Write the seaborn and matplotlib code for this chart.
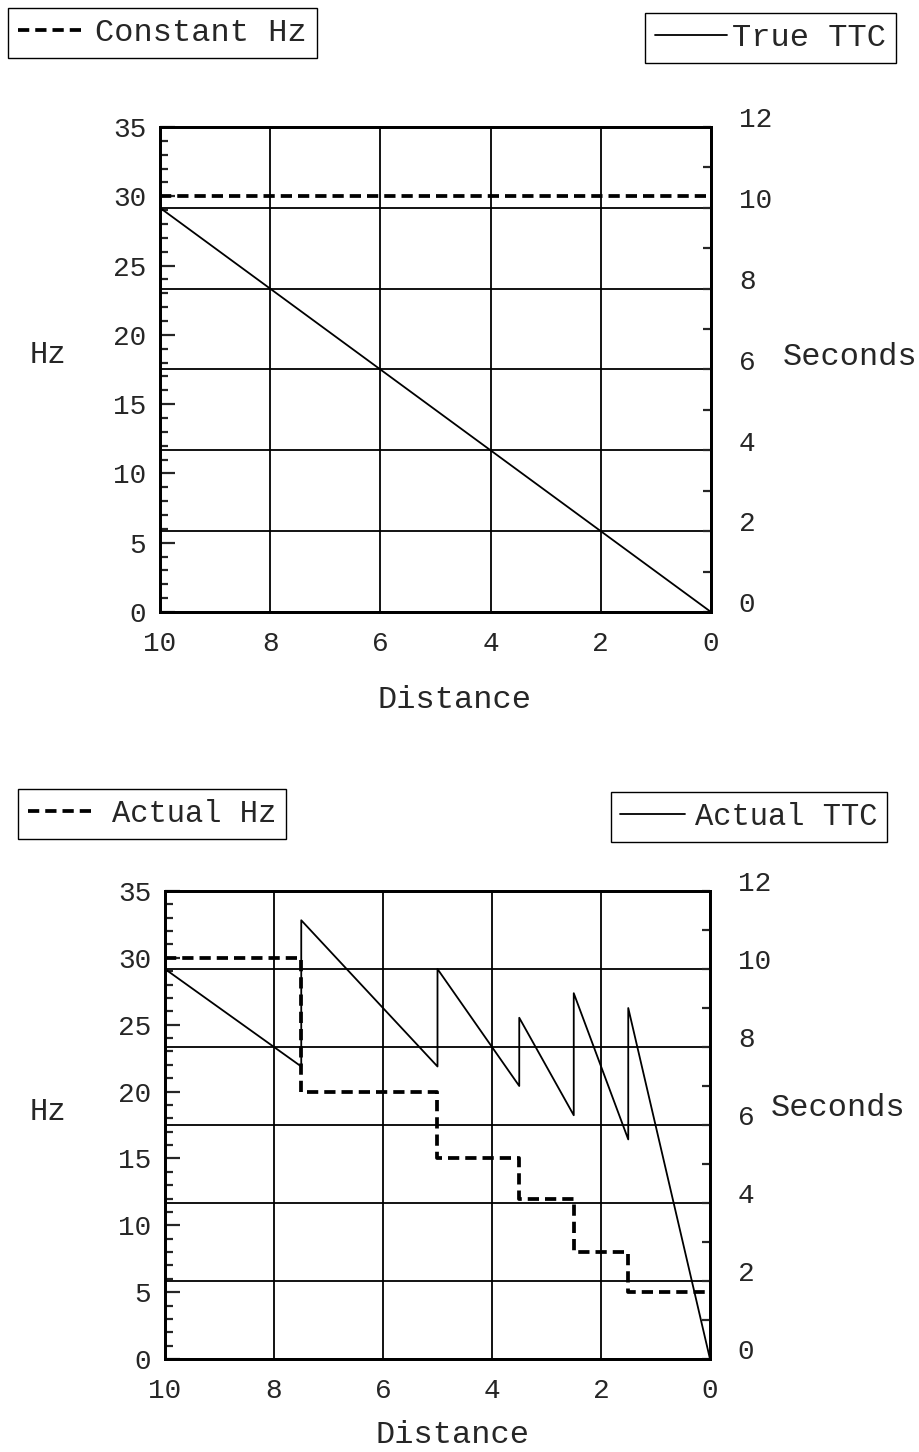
#! /usr/bin/env python3

import numpy as np
import pandas as pd
import seaborn as sns
import matplotlib.pyplot as plt
import matplotlib.transforms as mtransforms

# top panel: constant sampling rate
const_dist = [10, 9.5, 9, 8.5, 8, 7.5, 7, 6.5, 6, 5.5, 5, 4.5, 4, 3.5, 3, 2.5, 2, 1.5, 1, 0.5, 0]
const_hz = [30, 30, 30, 30, 30, 30, 30, 30, 30, 30, 30, 30, 30, 30, 30, 30, 30, 30, 30, 30, 30]
true_ttc = [10, 9.5, 9, 8.5, 8, 7.5, 7, 6.5, 6, 5.5, 5, 4.5, 4, 3.5, 3, 2.5, 2, 1.5, 1, 0.5, 0]

# bottom panel: stepped sampling rate
actual_dist = [10, 7.5, 7.5, 5, 5, 3.5, 3.5, 2.5, 2.5, 1.5, 1.5, 0]
actual_hz = [30, 30, 20, 20, 15, 15, 12, 12, 8, 8, 5, 5]
actual_ttc = [10, 7.5, 11.25, 7.5, 10, 7.0, 8.75, 6.25, 9.38, 5.63, 9.0, 0]

hz_ticks = [0, 5, 10, 15, 20, 25, 30, 35]
sec_ticks = [0, 2, 4, 6, 8, 10, 12]
dist_ticks = [10, 8, 6, 4, 2, 0]

FONT = ['Liberation Mono', 'DejaVu Sans Mono']
W, H = 920, 1452


def add_legend(fig, handle, text, loc, anchor, size, hlen, hpad):
    lg = fig.legend(handles=[handle], labels=[text], loc=loc,
                    bbox_to_anchor=anchor, handlelength=hlen,
                    handletextpad=hpad, frameon=True, fancybox=False,
                    edgecolor='black', framealpha=1, borderaxespad=0,
                    borderpad=0.32, prop={'family': FONT, 'size': size})
    lg.get_frame().set_linewidth(1.0)
    return lg


def draw_panel(fig, rect, dist, hz, ttc, hz_xy, sec_xy, dist_xy):
    ax = fig.add_axes(rect)
    ax2 = ax.twinx()

    df = pd.DataFrame({'Distance': dist, 'Hz': hz, 'Seconds': ttc})
    sns.lineplot(data=df, x='Distance', y='Hz', ax=ax, sort=False,
                 estimator=None, color='black', linewidth=2.7,
                 dashes=False, legend=False)
    hz_line = ax.lines[-1]
    hz_line.set_dashes((3.0, 1.6))
    sns.lineplot(data=df, x='Distance', y='Seconds', ax=ax2, sort=False,
                 estimator=None, color='black', linewidth=1.3, legend=False)
    ttc_line = ax2.lines[-1]

    ax.set_xlim(10, 0)
    ax.set_ylim(0, 35)
    ax2.set_ylim(0, 12)

    ax.set_xticks(dist_ticks)
    ax.set_xticks([9, 7, 5, 3, 1], minor=True)
    ax.set_yticks(hz_ticks)
    ax.set_yticks(range(0, 36), minor=True)
    ax2.set_yticks(sec_ticks)
    ax2.set_yticks([1, 3, 5, 7, 9, 11], minor=True)

    ax.tick_params(axis='y', which='major', direction='in', length=11,
                   width=1.6, pad=10, labelsize=20, right=False)
    ax.tick_params(axis='y', which='minor', direction='in', length=6,
                   width=1.6, right=False)
    ax.tick_params(axis='x', which='major', direction='in', length=8,
                   width=1.6, pad=14, labelsize=20, top=False)
    ax.tick_params(axis='x', which='minor', direction='in', length=6,
                   width=1.6, top=False)
    ax2.tick_params(axis='y', which='major', direction='in', length=6,
                    width=1.6, pad=20, labelsize=20)
    ax2.tick_params(axis='y', which='minor', direction='in', length=6,
                    width=1.6)
    for lbl in ax.get_xticklabels() + ax.get_yticklabels() + ax2.get_yticklabels():
        lbl.set_family(FONT)
    # right-hand labels sit a little above their ticks in the original
    shift = mtransforms.ScaledTranslation(0, 7 / 72, fig.dpi_scale_trans)
    for lbl in ax2.get_yticklabels():
        lbl.set_transform(lbl.get_transform() + shift)

    ax.xaxis.grid(True, color='black', linewidth=1.3)
    ax.yaxis.grid(False)
    ax2.yaxis.grid(True, color='black', linewidth=1.3)
    ax2.xaxis.grid(False)

    for a in (ax, ax2):
        for sp in a.spines.values():
            sp.set_visible(True)
            sp.set_linewidth(2.0)
            sp.set_color('black')

    ax.set_ylabel('Hz', rotation=0, fontsize=22, family=FONT,
                  va='center', ha='center')
    ax.yaxis.set_label_coords(*hz_xy)
    ax2.set_ylabel('Seconds', rotation=0, fontsize=23, family=FONT,
                   va='center', ha='center')
    ax2.yaxis.set_label_coords(*sec_xy)
    ax.set_xlabel('Distance', fontsize=23, family=FONT, va='center')
    ax.xaxis.set_label_coords(*dist_xy)
    return hz_line, ttc_line


def main():
    sns.set_style('white')
    plt.rcParams['font.family'] = FONT
    fig = plt.figure(figsize=(W / 100, H / 100), dpi=100)

    hz_line, ttc_line = draw_panel(
        fig, [160 / W, 1 - 612 / H, 551 / W, 485 / H],
        const_dist, const_hz, true_ttc,
        (-0.203, 0.53), (1.252, 0.526), (0.534, -0.181))
    add_legend(fig, hz_line, 'Constant Hz', 'upper left',
               (8 / W, 1 - 8 / H), 23, 2.1, 0.3)
    add_legend(fig, ttc_line, 'True TTC', 'upper right',
               (896 / W, 1 - 13 / H), 23, 2.25, 0.15)

    hz_line, ttc_line = draw_panel(
        fig, [165 / W, 1 - 1359 / H, 545 / W, 468 / H],
        actual_dist, actual_hz, actual_ttc,
        (-0.215, 0.528), (1.235, 0.536), (0.527, -0.162))
    add_legend(fig, hz_line, 'Actual Hz', 'upper left',
               (18 / W, 1 - 789 / H), 22, 2.1, 0.65)
    add_legend(fig, ttc_line, 'Actual TTC', 'upper right',
               (887 / W, 1 - 792 / H), 22, 2.1, 0.33)

    fig.savefig('out.png', dpi=100)


if __name__ == '__main__':
    main()
